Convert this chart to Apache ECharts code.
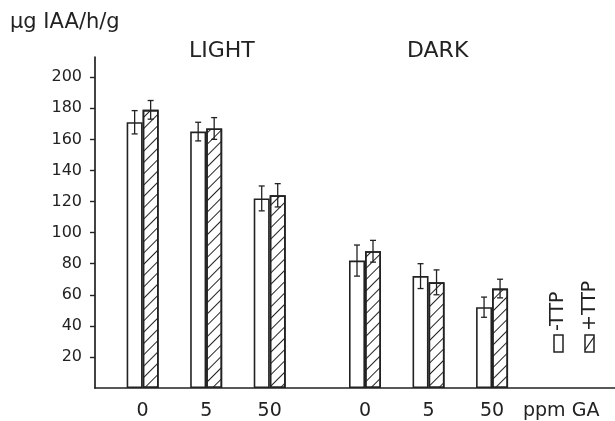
<!DOCTYPE html>
<html>
<head>
<meta charset="utf-8">
<script src="https://cdn.jsdelivr.net/npm/echarts@6/dist/echarts.min.js"></script>
<style>
html,body{margin:0;padding:0;background:#fff;}
#chart{width:615px;height:421px;}
</style>
</head>
<body>
<div id="chart"></div>
<script>
// ---- data ----
const conditions = ['LIGHT', 'DARK'];
const doses = ['0', '5', '50'];
const seriesNames = ['-TTP', '+TTP'];
const minusTTP = [171, 165, 122, 82, 72, 52];
const minusErr = [7.5, 6, 8, 10, 8, 6.5];
const plusTTP = [179, 167, 124, 88, 68, 64];
const plusErr = [6, 7, 7.5, 7, 8, 6];
const yTicks = [20, 40, 60, 80, 100, 120, 140, 160, 180, 200];
const yUnit = 'µg IAA/h/g';
const xUnit = 'ppm GA';

// ---- build category slots (spacer, dose, spacer, dose, spacer, dose, spacer) per condition ----
const categories = [];
const slotIdx = [];
conditions.forEach(c => {
  categories.push(c + '|gapA');
  doses.forEach((d, j) => {
    slotIdx.push(categories.length);
    categories.push(c + '|' + d);
    categories.push(c + '|gap' + j);
  });
});
['end1', 'end2', 'end3'].forEach(k => categories.push(k + '|gap'));

function fullArray(vals) {
  const arr = categories.map(() => null);
  slotIdx.forEach((s, i) => { arr[s] = vals[i]; });
  return arr;
}

const INK = '#222';
const FONT = 'DejaVu Sans';
const barWidth = 16;

function errRender(sign) {
  return function (params, api) {
    const x = api.value(0), y = api.value(1), e = api.value(2);
    const c = api.coord([x, y]);
    const t = api.coord([x, y + e]);
    const b = api.coord([x, y - e]);
    const cx = c[0] + sign * barWidth / 2;
    const cap = 3;
    const st = { stroke: INK, lineWidth: 1.3 };
    return {
      type: 'group',
      children: [
        { type: 'line', shape: { x1: cx, y1: t[1], x2: cx, y2: b[1] }, style: st },
        { type: 'line', shape: { x1: cx - cap, y1: t[1], x2: cx + cap, y2: t[1] }, style: st },
        { type: 'line', shape: { x1: cx - cap, y1: b[1], x2: cx + cap, y2: b[1] }, style: st }
      ]
    };
  };
}

const chart = echarts.init(document.getElementById('chart'), null, { renderer: 'canvas' });

const titleStyle = (size) => ({ fontSize: size, fontWeight: 'normal', fontFamily: FONT, color: INK });

chart.setOption({
  backgroundColor: '#fff',
  animation: false,
  title: [
    { text: yUnit, left: 10, top: 12, padding: 0, textStyle: titleStyle(21) },
    { text: conditions[0], left: 189, top: 40, padding: 0, textStyle: titleStyle(22) },
    { text: conditions[1], left: 407, top: 40, padding: 0, textStyle: titleStyle(22) },
    { text: xUnit, left: 523, top: 402, padding: 0, textStyle: titleStyle(19) }
  ],
  grid: { left: 95, right: -20, top: 57, bottom: 33, outerBoundsMode: 'none' },
  xAxis: {
    type: 'category',
    data: categories,
    axisLine: { lineStyle: { color: INK, width: 1.7 } },
    axisTick: { show: false },
    splitLine: { show: false },
    axisLabel: {
      interval: 0,
      margin: 14,
      fontSize: 19,
      fontFamily: FONT,
      color: INK,
      formatter: v => (v.indexOf('|gap') >= 0 ? '' : v.split('|')[1])
    }
  },
  yAxis: {
    type: 'value',
    min: 0,
    max: 213,
    axisLine: { show: true, lineStyle: { color: INK, width: 1.7 } },
    axisTick: { show: true, length: 5, customValues: yTicks, lineStyle: { color: INK, width: 1.4 } },
    axisLabel: { customValues: yTicks, margin: 13, fontSize: 16, fontFamily: FONT, color: INK },
    splitLine: { show: false }
  },
  series: [
    {
      name: seriesNames[0],
      type: 'bar',
      barWidth: barWidth,
      barGap: '0%',
      data: fullArray(minusTTP),
      itemStyle: { color: '#fff', borderColor: INK, borderWidth: 1.6 }
    },
    {
      name: seriesNames[1],
      type: 'bar',
      barWidth: barWidth,
      barGap: '0%',
      data: fullArray(plusTTP),
      itemStyle: {
        color: '#fff', borderColor: INK, borderWidth: 1.6,
        decal: {
          symbol: 'rect', symbolSize: 1,
          dashArrayX: [1, 0], dashArrayY: [1, 7],
          rotation: -Math.PI / 4,
          color: INK, backgroundColor: null
        }
      }
    },
    {
      type: 'custom', name: 'err-', z: 5,
      renderItem: errRender(-1),
      data: slotIdx.map((s, i) => [s, minusTTP[i], minusErr[i]])
    },
    {
      type: 'custom', name: 'err+', z: 5,
      renderItem: errRender(1),
      data: slotIdx.map((s, i) => [s, plusTTP[i], plusErr[i]])
    }
  ],
  graphic: [
    { type: 'rect', shape: { x: 554, y: 335, width: 9, height: 17 }, style: { fill: '#fff', stroke: INK, lineWidth: 1.5 } },
    { type: 'rect', shape: { x: 585, y: 335, width: 9, height: 17 }, style: { fill: '#fff', stroke: INK, lineWidth: 1.5 } },
    { type: 'line', shape: { x1: 585, y1: 350, x2: 594, y2: 337 }, style: { stroke: INK, lineWidth: 1.3 } },
    { type: 'text', x: 558.5, y: 331, rotation: Math.PI / 2,
      style: { text: seriesNames[0], font: '19px "DejaVu Sans"', fill: INK, textAlign: 'left', textVerticalAlign: 'middle' } },
    { type: 'text', x: 590, y: 331, rotation: Math.PI / 2,
      style: { text: seriesNames[1], font: '19px "DejaVu Sans"', fill: INK, textAlign: 'left', textVerticalAlign: 'middle' } }
  ]
});
</script>
</body>
</html>
